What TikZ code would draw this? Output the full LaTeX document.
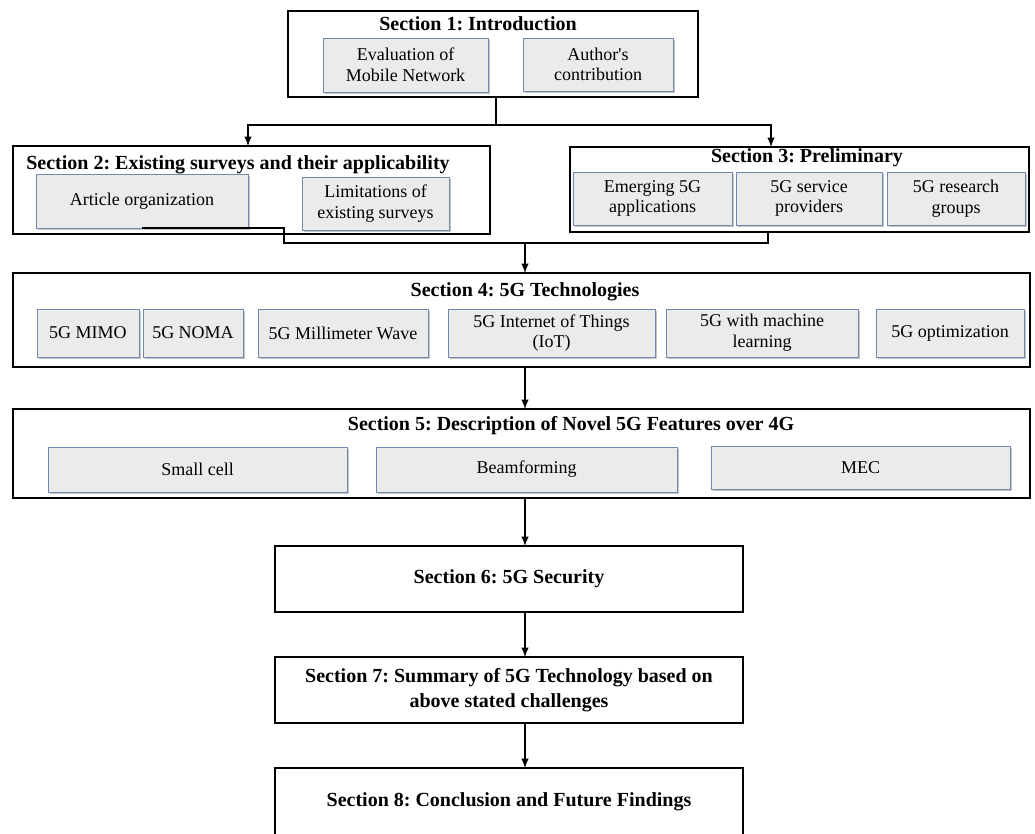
\documentclass[tikz,border=0pt]{standalone}
\usepackage{fontspec}
\setmainfont{Liberation Serif}
\usetikzlibrary{positioning,shadows,arrows.meta}
\definecolor{subfill}{HTML}{EBEBEB}
\definecolor{subline}{HTML}{7189AE}
\frenchspacing

\begin{document}
\begin{tikzpicture}[x=0.75pt,y=-0.75pt,
dim/.style 2 args={minimum width=#1*0.75pt, minimum height=#2*0.75pt},
sect/.style={draw, line width=0.8pt, inner sep=0pt, outer sep=0pt, align=center, font=\fontsize{15}{19}\selectfont\bfseries},
sub/.style={draw=subline, fill=subfill, line width=0.6pt, inner sep=0pt, outer sep=0pt, align=center, font=\fontsize{13.5}{15.5}\selectfont, drop shadow={shadow xshift=1.2pt, shadow yshift=-1.2pt, fill=black!45}},
head/.style={inner sep=0pt, font=\fontsize{15}{19}\selectfont\bfseries},
arr/.style={-{Latex[length=7pt,width=5.5pt]}, line width=0.8pt},
line/.style={line width=0.8pt}]
\useasboundingbox (0,0) rectangle (1035,834);

% section boxes
\node[sect, dim={410}{86}] (s1) at (493,54) {};
\node[sect, dim={477}{88}] (s2) at (251.5,190) {};
\node[sect, dim={459}{85}] (s3) at (799.5,189.5) {};
\node[sect, dim={1017}{94}] (s4) at (521.5,320) {};
\node[sect, dim={1017}{89}] (s5) at (521.5,453.5) {};
\node[sect, dim={468}{66}] (s6) at (509,579) {Section 6: 5G Security};
\node[sect, dim={468}{66}] (s7) at (509,690) {Section 7: Summary of 5G Technology based on\\above stated challenges};
\node[sect, dim={468}{68}] (s8) at (509,802) {Section 8: Conclusion and Future Findings};

% headings
\node[head] (h1) at (478,24) {Section 1: Introduction};
\node[head] (h2) at (238,165) {Section 2: Existing surveys and their applicability};
\node[head] (h3) at (807,158) {Section 3: Preliminary};
\node[head] (h4) at (525,292) {Section 4: 5G Technologies};
\node[head] (h5) at (571,426) {Section 5: Description of Novel 5G Features over 4G};

% inner boxes
\node[sub, dim={165}{54}] (eval) at (405.5,65) {Evaluation of\\Mobile Network};
\node[sub, dim={150}{53}] (contrib) at (598,64.5) {Author\textquotesingle s\\contribution};
\node[sub, dim={212}{54}] (art) at (142,201) {Article organization};
\node[sub, dim={147}{53}] (limit) at (375.5,203.5) {Limitations of\\existing surveys};
\node[sub, dim={159}{53}] (apps) at (652.5,198.5) {Emerging 5G\\applications};
\node[sub, dim={146}{53}] (prov) at (809,198.5) {5G service\\providers};
\node[sub, dim={138}{53}] (groups) at (956,198.5) {5G research\\groups};
\node[sub, dim={102}{48}] (mimo) at (88,333) {5G MIMO};
\node[sub, dim={100}{48}] (noma) at (193,333) {5G NOMA};
\node[sub, dim={170}{48}] (mmw) at (343,333) {5G Millimeter Wave};
\node[sub, dim={207}{48}] (iot) at (551.5,333) {5G Internet of Things\\(IoT)};
\node[sub, dim={192}{48}] (ml) at (762,333) {5G with machine\\learning};
\node[sub, dim={148}{48}] (opt) at (950,333) {5G optimization};
\node[sub, dim={299}{45}] (small) at (197.5,469.5) {Small cell};
\node[sub, dim={301}{45}] (beam) at (526.5,469.5) {Beamforming};
\node[sub, dim={299}{43}] (mec) at (860.5,467.5) {MEC};

% connectors
\coordinate (j1) at (496,125);
\coordinate (j2) at (248,125);
\coordinate (j3) at (771,125);
\coordinate (k2) at (284,243);
\coordinate (k3) at (768,243);
\coordinate (j4) at (525,243);
\draw[line] (s1.south -| j1) -- (j1);
\draw[arr] (j1) -- (j2) -- (j2 |- s2.north);
\draw[arr] (j1) -- (j3) -- (j3 |- s3.north);
\draw[line] (art.south) -| (k2) -- (k3) -- (k3 |- s3.south);
\draw[arr] (j4) -- (j4 |- s4.north);
\draw[arr] (j4 |- s4.south) -- (j4 |- s5.north);
\draw[arr] (j4 |- s5.south) -- (j4 |- s6.north);
\draw[arr] (j4 |- s6.south) -- (j4 |- s7.north);
\draw[arr] (j4 |- s7.south) -- (j4 |- s8.north);
\end{tikzpicture}
\end{document}
